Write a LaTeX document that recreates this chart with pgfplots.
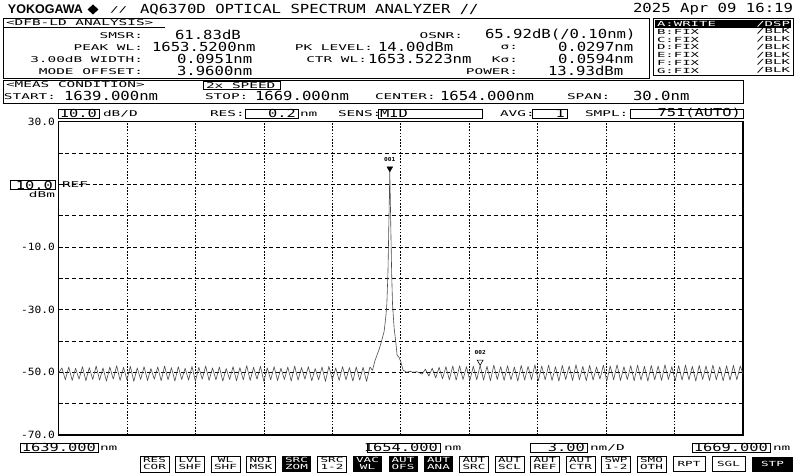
\documentclass[border=0pt]{standalone}
\usepackage{pgfplots}
\pgfplotsset{compat=1.18}
\usepackage{fontspec}
\setmainfont{DejaVu Sans Mono}
\newfontfamily\fBigF[FakeStretch=1.25]{DejaVu Sans Mono}
\newfontfamily\fMidF[FakeStretch=1.40]{DejaVu Sans Mono}
\newfontfamily\fSmallF[FakeStretch=1.80]{DejaVu Sans Mono}
\newfontfamily\fTickF[FakeStretch=1.12]{DejaVu Sans Mono}
\newfontfamily\fTrcF[FakeStretch=2.00]{DejaVu Sans Mono}
\newfontfamily\yokof{Liberation Sans}
\newcommand\fbig{\fBigF\fontsize{12.5}{13}\selectfont}
\newcommand\fmid{\fMidF\fontsize{11}{12}\selectfont}
\newcommand\fsmall{\fSmallF\fontsize{8}{9}\selectfont}
\newcommand\ftick{\fTickF\fontsize{10}{11}\selectfont}
\newcommand\ftrc{\fTrcF\fontsize{7}{7}\selectfont}
\newcommand\fbtn{\fSmallF\fontsize{7}{7}\selectfont}
\newcommand\ftiny{\fTickF\bfseries\fontsize{5.5}{6}\selectfont}

\pgfplotstableread{
x y
1639.00 -50.3
1639.15 -48.6
1639.30 -52.4
1639.45 -48.3
1639.60 -52.6
1639.75 -48.7
1639.90 -52.2
1640.05 -48.2
1640.20 -52.7
1640.35 -48.5
1640.50 -52.3
1640.65 -48.0
1640.80 -52.5
1640.95 -48.6
1641.10 -52.8
1641.25 -48.3
1641.40 -52.2
1641.55 -47.9
1641.70 -52.6
1641.85 -48.4
1642.00 -52.4
1642.15 -48.1
1642.30 -52.9
1642.45 -48.6
1642.60 -52.3
1642.75 -48.2
1642.90 -52.6
1643.05 -48.8
1643.20 -52.2
1643.35 -48.3
1643.50 -52.7
1643.65 -48.0
1643.80 -52.4
1643.95 -48.5
1644.10 -52.8
1644.25 -48.2
1644.40 -52.3
1644.55 -48.7
1644.70 -52.5
1644.85 -48.1
1645.00 -52.9
1645.15 -48.4
1645.30 -52.2
1645.45 -48.0
1645.60 -52.6
1645.75 -48.6
1645.90 -52.4
1646.05 -48.3
1646.20 -52.8
1646.35 -48.8
1646.50 -52.3
1646.65 -48.2
1646.80 -52.7
1646.95 -48.5
1647.10 -52.4
1647.25 -47.9
1647.40 -52.6
1647.55 -48.4
1647.70 -52.2
1647.85 -48.1
1648.00 -52.9
1648.15 -48.6
1648.30 -52.4
1648.45 -48.2
1648.60 -52.6
1648.75 -48.7
1648.90 -52.3
1649.05 -48.3
1649.20 -52.8
1649.35 -48.0
1649.50 -52.5
1649.65 -48.5
1649.80 -52.2
1649.95 -48.2
1650.10 -52.7
1650.25 -48.8
1650.40 -52.4
1650.55 -48.3
1650.70 -52.9
1650.85 -48.1
1651.00 -52.3
1651.15 -48.6
1651.30 -52.6
1651.45 -48.2
1651.60 -52.4
1651.75 -48.5
1651.90 -52.8
1652.05 -48.3
1652.20 -52.5
1652.35 -48.4
1652.50 -52.9
1652.65 -48.3
1652.76 -49.4
1652.86 -46.5
1652.96 -44.5
1653.06 -42.5
1653.15 -40.3
1653.27 -37.0
1653.34 -32.7
1653.39 -28.4
1653.44 -18.0
1653.48 -2.0
1653.52 14.0
1653.56 -2.0
1653.60 -18.0
1653.64 -28.4
1653.71 -35.9
1653.78 -40.2
1653.84 -44.5
1653.93 -45.3
1654.00 -46.6
1654.10 -49.3
1654.25 -50.0
1654.40 -49.7
1654.55 -50.0
1654.70 -49.8
1654.80 -50.1
1654.93 -50.6
1655.08 -49.0
1655.23 -51.2
1655.38 -48.7
1655.53 -51.8
1655.68 -48.4
1655.83 -52.1
1655.98 -48.2
1656.13 -52.4
1656.28 -48.0
1656.43 -52.5
1656.58 -47.9
1656.73 -52.3
1656.88 -48.2
1657.03 -52.6
1657.18 -48.0
1657.33 -52.4
1657.48 -47.8
1657.63 -52.5
1657.78 -48.1
1657.93 -52.7
1658.08 -47.7
1658.23 -52.3
1658.38 -48.2
1658.53 -52.6
1658.68 -47.9
1658.83 -52.4
1658.98 -48.3
1659.13 -52.8
1659.28 -47.8
1659.43 -52.5
1659.58 -48.1
1659.73 -52.3
1659.88 -47.6
1660.03 -52.7
1660.18 -48.0
1660.33 -52.4
1660.48 -47.7
1660.63 -52.6
1660.78 -48.2
1660.93 -52.8
1661.08 -47.8
1661.23 -52.3
1661.38 -48.0
1661.53 -52.6
1661.68 -47.6
1661.83 -52.4
1661.98 -48.1
1662.13 -52.7
1662.28 -47.8
1662.43 -52.5
1662.58 -48.3
1662.73 -52.2
1662.88 -47.7
1663.03 -52.8
1663.18 -48.0
1663.33 -52.4
1663.48 -47.6
1663.63 -52.6
1663.78 -48.2
1663.93 -52.3
1664.08 -47.9
1664.23 -52.7
1664.38 -47.7
1664.53 -52.5
1664.68 -48.1
1664.83 -52.8
1664.98 -47.8
1665.13 -52.4
1665.28 -48.0
1665.43 -52.6
1665.58 -47.6
1665.73 -52.3
1665.88 -48.2
1666.03 -52.7
1666.18 -47.9
1666.33 -52.5
1666.48 -47.7
1666.63 -52.4
1666.78 -48.1
1666.93 -52.8
1667.08 -47.8
1667.23 -52.3
1667.38 -48.0
1667.53 -52.6
1667.68 -47.7
1667.83 -52.4
1667.98 -48.2
1668.13 -52.7
1668.28 -47.9
1668.43 -52.5
1668.58 -47.8
1668.73 -52.4
1668.88 -48.0
1669.00 -50.5
}\trace

\begin{document}
\begin{tikzpicture}
\useasboundingbox (0pt,0pt) rectangle (800pt,-473pt);
\begin{axis}[
  at={(58.5pt,-435pt)}, anchor=south west,
  width=684.5pt, height=313.5pt, scale only axis,
  xmin=1639, xmax=1669, ymin=-70, ymax=30,
  xtick={1642,1645,...,1666}, xticklabels={},
  ytick={-70,-60,...,30},
  yticklabels={-70.0,,-50.0,,-30.0,,-10.0,,,,30.0},
  yticklabel style={font=\ftick, inner sep=0pt, xshift=-3.5pt},
  major tick length=0pt,
  grid=major,
  major x grid style={black, line width=0.6pt, dash pattern=on 1.6pt off 1.6pt},
  major y grid style={black, line width=0.6pt, dash pattern=on 4pt off 2.8pt},
  axis line style={black, line width=1.4pt},
  clip=true,
]
\addplot[black!70, line width=0.6pt, line join=round] table[x=x, y=y] {\trace};
\addplot[only marks, mark=triangle*, mark size=3.4pt,
  mark options={yshift=3.2pt, rotate=180, fill=black, draw=black},
  nodes near coords, point meta=explicit symbolic,
  nodes near coords style={font=\ftiny, anchor=south, yshift=6.5pt, inner sep=0pt}]
  coordinates {(1653.52,14.0) [001]};
\addplot[only marks, mark=triangle, mark size=3.4pt,
  mark options={yshift=3.6pt, rotate=180, fill=white, draw=black, line width=0.6pt},
  nodes near coords, point meta=explicit symbolic,
  nodes near coords style={font=\ftiny, anchor=south, yshift=7pt, inner sep=0pt}]
  coordinates {(1657.48,-47.8) [002]};
\end{axis}

\begin{scope}[x=1pt, y=-1pt, every node/.style={inner sep=0pt, outer sep=0pt}]
% ---- title row
\node[anchor=west, font=\yokof\bfseries\fontsize{12.5}{12.5}\selectfont] at (8,9.5) {YOKOGAWA};
\fill (93,4.5) -- (98.5,9.5) -- (93,14.5) -- (87.5,9.5) -- cycle;
\node[anchor=west, font=\fsmall] at (110,9.5) {//};
\node[anchor=west, font=\fbig] at (140,9.5) {AQ6370D OPTICAL SPECTRUM ANALYZER //};
\node[anchor=east, font=\fbig] at (793,9.5) {2025 Apr 09 16:19};
% ---- analysis box
\draw[line width=0.8pt] (3,18) rectangle (649,78);
\draw[line width=0.8pt] (3,27.5) -- (165,27.5);
\node[anchor=west, font=\fsmall] at (6,22.8) {<DFB-LD ANALYSIS>};
\node[anchor=east, font=\fsmall] at (143,35.5) {SMSR:};
\node[anchor=east, font=\fsmall] at (143,47.5) {PEAK WL:};
\node[anchor=east, font=\fsmall] at (143,60) {3.00dB WIDTH:};
\node[anchor=east, font=\fsmall] at (143,71.5) {MODE OFFSET:};
\node[anchor=west, font=\fbig] at (175,34.5) {61.83dB};
\node[anchor=west, font=\fbig] at (152,46.5) {1653.5200nm};
\node[anchor=west, font=\fbig] at (177,59) {0.0951nm};
\node[anchor=west, font=\fbig] at (177,70.5) {3.9600nm};
\node[anchor=east, font=\fsmall] at (373,47.5) {PK LEVEL:};
\node[anchor=west, font=\fbig] at (378,46.5) {14.00dBm};
\node[anchor=east, font=\fsmall] at (367,60) {CTR WL:};
\node[anchor=west, font=\fbig] at (368,59) {1653.5223nm};
\node[anchor=east, font=\fsmall] at (463,35.5) {OSNR:};
\node[anchor=west, font=\fbig] at (485,34.5) {65.92dB(/0.10nm)};
\node[anchor=east, font=\fsmall] at (518,47.5) {σ:};
\node[anchor=west, font=\fbig] at (558,46.5) {0.0297nm};
\node[anchor=east, font=\fsmall] at (518,60) {Kσ:};
\node[anchor=west, font=\fbig] at (558,59) {0.0594nm};
\node[anchor=east, font=\fsmall] at (518,71.5) {POWER:};
\node[anchor=west, font=\fbig] at (548,70.5) {13.93dBm};
% ---- trace box
\draw[line width=0.8pt] (653,18) rectangle (793,75);
\fill (655,20.3) rectangle (791,27.6);
\node[anchor=west, font=\ftrc, text=white] at (657,24) {A:WRITE};
\node[anchor=east, font=\ftrc, text=white] at (790,24) {/DSP};
\foreach \l [count=\i] in {B,C,D,E,F,G} {
  \node[anchor=west, font=\ftrc] at (657,{24+7.75*\i}) {\l:FIX};
  \node[anchor=east, font=\ftrc] at (790,{24+7.75*\i}) {/BLK};
}
% ---- measurement condition box
\draw[line width=0.8pt] (3,80) rectangle (743,103.5);
\node[anchor=west, font=\fsmall] at (6,85) {<MEAS CONDITION>};
\draw[line width=0.8pt] (203,81.5) rectangle (280,89);
\node[anchor=west, font=\fsmall] at (206,85.3) {2x SPEED};
\node[anchor=west, font=\fsmall] at (4,97) {START:};
\node[anchor=west, font=\fbig] at (64,96) {1639.000nm};
\node[anchor=west, font=\fsmall] at (205,97) {STOP:};
\node[anchor=west, font=\fbig] at (255,96) {1669.000nm};
\node[anchor=west, font=\fsmall] at (375,97) {CENTER:};
\node[anchor=west, font=\fbig] at (440,96) {1654.000nm};
\node[anchor=west, font=\fsmall] at (567,97) {SPAN:};
\node[anchor=west, font=\fbig] at (633,96) {30.0nm};
% ---- setting row
\draw[line width=0.8pt] (58,109) rectangle (99,118);
\node[anchor=east, font=\fmid] at (97,113.5) {10.0};
\node[anchor=west, font=\fsmall] at (103,114) {dB/D};
\node[anchor=west, font=\fsmall] at (210,114) {RES:};
\draw[line width=0.8pt] (245,109) rectangle (298,118);
\node[anchor=east, font=\fmid] at (296,113.5) {0.2};
\node[anchor=west, font=\fsmall] at (300,114) {nm};
\node[anchor=west, font=\fsmall] at (338,114) {SENS:};
\draw[line width=0.8pt] (378,109) rectangle (482,118);
\node[anchor=west, font=\fmid] at (380,113.5) {MID};
\node[anchor=west, font=\fsmall] at (500,114) {AVG:};
\draw[line width=0.8pt] (532,109) rectangle (567,118);
\node[anchor=east, font=\fmid] at (565,113.5) {1};
\node[anchor=west, font=\fsmall] at (585,114) {SMPL:};
\draw[line width=0.8pt] (630,109) rectangle (743,118);
\node[anchor=east, font=\fmid] at (741,113.5) {751(AUTO)};
% ---- reference level
\draw[line width=0.8pt] (10,180.5) rectangle (55,189.5);
\node[anchor=east, font=\fmid] at (53,185) {10.0};
\node[anchor=east, font=\fsmall] at (55,194.5) {dBm};
\node[anchor=west, font=\fsmall] at (62,185) {REF};
% ---- bottom scale row
\draw[line width=0.8pt] (20,443) rectangle (98,452);
\node[anchor=east, font=\fmid] at (96,447.5) {1639.000};
\node[anchor=west, font=\fsmall] at (100,448) {nm};
\draw[line width=0.8pt] (367,443) rectangle (440,452);
\node[anchor=east, font=\fmid] at (438,447.5) {1654.000};
\node[anchor=west, font=\fsmall] at (444,448) {nm};
\draw[line width=0.8pt] (530,443) rectangle (587,452);
\node[anchor=east, font=\fmid] at (585,447.5) {3.00};
\node[anchor=west, font=\fsmall] at (590,448) {nm/D};
\draw[line width=0.8pt] (692,443) rectangle (770,452);
\node[anchor=east, font=\fmid] at (768,447.5) {1669.000};
\node[anchor=west, font=\fsmall] at (773,448) {nm};
% ---- soft keys
\foreach \x/\a/\b in {140/RES/COR, 175.5/LVL/SHF, 211/WL/SHF, 246.5/NOI/MSK,
   317.5/SRC/1-2, 459.5/AUT/SRC, 495/AUT/SCL, 530.5/AUT/REF, 566/AUT/CTR,
   601.5/SWP/1-2, 637/SMO/OTH} {
  \draw[line width=0.7pt] (\x,456) rectangle ++(29,16);
  \node[font=\fbtn] at ({\x+14.5},460.3) {\a};
  \node[font=\fbtn] at ({\x+14.5},467.3) {\b};
}
\foreach \x/\a/\b in {282/SRC/ZOM, 353/VAC/WL, 388.5/AUT/OFS, 424/AUT/ANA} {
  \fill (\x,456) rectangle ++(29,16);
  \node[font=\fbtn, text=white] at ({\x+14.5},460.3) {\a};
  \node[font=\fbtn, text=white] at ({\x+14.5},467.3) {\b};
}
\draw[line width=0.7pt] (673,456.5) rectangle (705,471.5);
\node[font=\fbtn] at (689,464) {RPT};
\draw[line width=0.7pt] (712,456.5) rectangle (745,471.5);
\node[font=\fbtn] at (728.5,464) {SGL};
\fill (752,456.5) rectangle (793,471.5);
\node[font=\fbtn, text=white] at (772.5,464) {STP};
\end{scope}
\end{tikzpicture}
\end{document}
